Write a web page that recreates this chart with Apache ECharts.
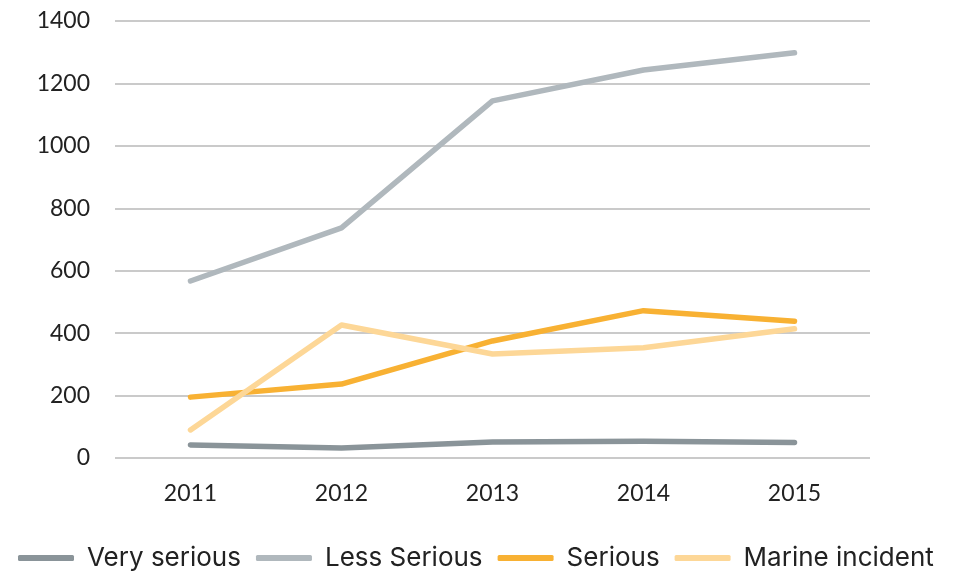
<!DOCTYPE html>
<html>
<head>
<meta charset="utf-8">
<script src="https://cdn.jsdelivr.net/npm/echarts@6/dist/echarts.min.js"></script>
<style>
    html, body { margin: 0; padding: 0; background: #fff; }
    #main { width: 956px; height: 573px; }
</style>
</head>
<body>
<div id="main"></div>
<script>
var years = ['2011', '2012', '2013', '2014', '2015'];
var verySerious = [42, 32, 51, 54, 50];
var lessSerious = [567, 737, 1144, 1243, 1298];
var serious = [195, 237, 375, 472, 438];
var marineIncident = [90, 426, 333, 353, 414];

var myChart = echarts.init(document.getElementById('main'));
var option = {
    animation: false,
    color: ['#8a9499', '#b0b8bd', '#f8b133', '#fdd797'],
    grid: {
        left: 115,
        right: 86,
        top: 21,
        bottom: 115
    },
    legend: {
        left: 18,
        top: 545,
        padding: 0,
        icon: 'roundRect',
        itemWidth: 56,
        itemHeight: 6,
        itemGap: 15,
        textStyle: {
            fontFamily: 'Inter, sans-serif',
            fontSize: 26,
            color: '#222',
            padding: [0, 0, 0, 8]
        },
        data: ['Very serious', 'Less Serious', 'Serious', 'Marine incident']
    },
    xAxis: {
        type: 'category',
        data: years,
        axisLine: { show: false },
        axisTick: { show: false },
        axisLabel: {
            margin: 24,
            fontSize: 23,
            color: '#222',
            fontFamily: 'Lato, sans-serif'
        }
    },
    yAxis: {
        type: 'value',
        min: 0,
        max: 1400,
        interval: 200,
        axisLine: { show: false },
        axisTick: { show: false },
        splitLine: { lineStyle: { color: '#b8b8b8', width: 1.5 } },
        axisLabel: {
            margin: 25,
            fontSize: 23,
            color: '#222',
            fontFamily: 'Lato, sans-serif',
            formatter: function (v) { return String(v); }
        }
    },
    series: [
        {
            name: 'Very serious', type: 'line', data: verySerious,
            symbol: 'none', lineStyle: { width: 5.5, cap: 'round', join: 'round' }
        },
        {
            name: 'Less Serious', type: 'line', data: lessSerious,
            symbol: 'none', lineStyle: { width: 5.5, cap: 'round', join: 'round' }
        },
        {
            name: 'Serious', type: 'line', data: serious,
            symbol: 'none', lineStyle: { width: 5.5, cap: 'round', join: 'round' }
        },
        {
            name: 'Marine incident', type: 'line', data: marineIncident,
            symbol: 'none', lineStyle: { width: 5.5, cap: 'round', join: 'round' }
        }
    ]
};
myChart.setOption(option);
</script>
</body>
</html>
